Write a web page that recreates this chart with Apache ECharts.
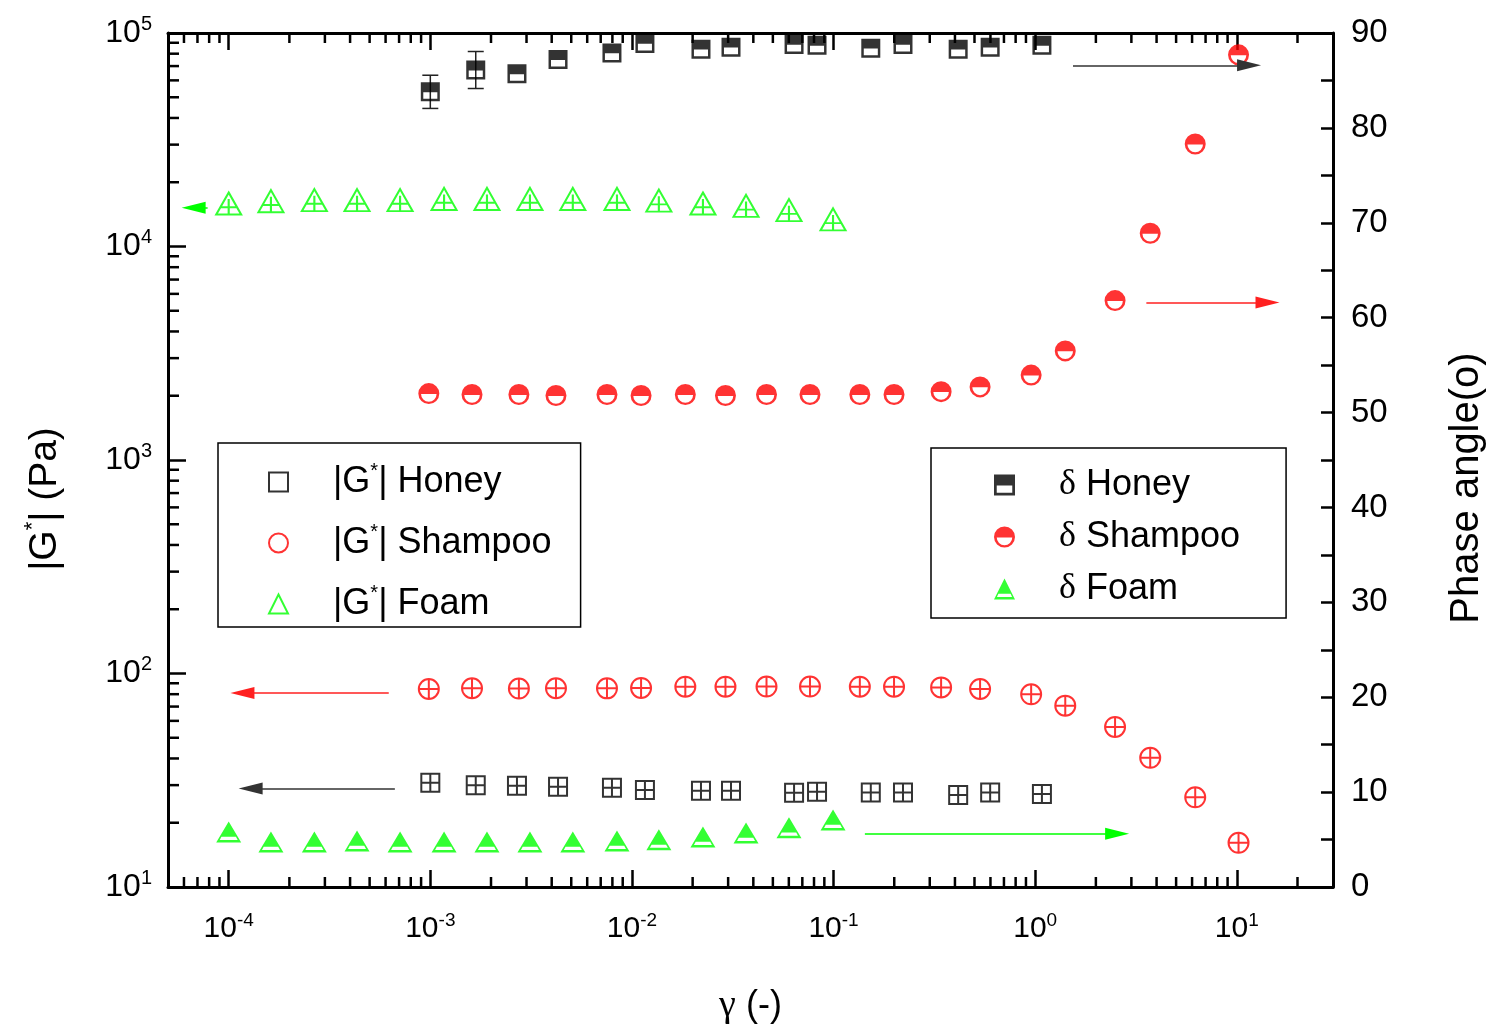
<!DOCTYPE html>
<html>
<head>
<meta charset="utf-8">
<title>|G*| and phase angle vs strain</title>
<script src="https://cdn.jsdelivr.net/npm/echarts@6/dist/echarts.min.js"></script>
<style>
  html, body { margin: 0; padding: 0; background: #fff; }
  #chart { width: 1491px; height: 1030px; }
</style>
</head>
<body>
<div id="chart"></div>
<script>
'use strict';

var xHoney = [1.0e-3, 1.68e-3, 2.69e-3, 4.3e-3, 7.96e-3, 0.0116, 0.022, 0.031, 0.0637, 0.0828, 0.153, 0.221, 0.415, 0.598, 1.08];
var gHoney = [30.8, 30.0, 29.8, 29.5, 29.2, 28.5, 28.2, 28.2, 27.6, 27.9, 27.7, 27.7, 27.0, 27.7, 27.3];
var dHoney = [83.8, 86.1, 85.7, 87.2, 87.9, 88.9, 88.3, 88.5, 88.8, 88.7, 88.4, 88.8, 88.3, 88.5, 88.7];
var dHoneyErr = [1.75, 1.95, 0, 0, 0, 0, 0, 0, 0, 0, 0, 0, 0, 0, 0];

var xShampoo = [9.83e-4, 1.61e-3, 2.75e-3, 4.2e-3, 7.52e-3, 0.0111, 0.0184, 0.0291, 0.0465, 0.0764,
                0.135, 0.1995, 0.3415, 0.533, 0.955, 1.41, 2.49, 3.72, 6.22, 10.2];
var gShampoo = [84.6, 85.3, 85.0, 85.3, 85.2, 85.6, 86.7, 86.7, 86.9, 86.9,
                86.7, 86.7, 86.1, 84.6, 79.9, 70.7, 56.2, 40.3, 26.3, 16.1];
var dShampoo = [52.0, 51.9, 51.9, 51.8, 51.9, 51.8, 51.9, 51.8, 51.9, 51.9,
                51.9, 51.9, 52.2, 52.7, 53.95, 56.5, 61.8, 68.9, 78.3, 87.7];

var xFoam = [1.0e-4, 1.62e-4, 2.66e-4, 4.33e-4, 7.08e-4, 1.17e-3, 1.91e-3, 3.12e-3, 5.09e-3, 8.43e-3,
             0.0136, 0.0225, 0.0368, 0.0601, 0.0994];
var gFoam = [15900, 16300, 16500, 16500, 16500, 16700, 16700, 16700, 16700, 16700,
             16400, 15900, 15500, 14800, 13400];
var dFoam = [5.8, 4.74, 4.74, 4.85, 4.74, 4.74, 4.74, 4.74, 4.74, 4.85,
             4.97, 5.27, 5.69, 6.24, 7.06];

// arrows telling which axis a set belongs to: [x from, x to, y]
var arrowHoneyG = [6.67e-4, 1.285e-4, 28.9];
var arrowShampooG = [6.22e-4, 1.17e-4, 81];
var arrowFoamG = [7.86e-5, 6.7e-5, 15200];
var arrowHoneyD = [1.54, 11.5, 86.6];
var arrowShampooD = [3.56, 14.2, 61.6];
var arrowFoamD = [0.143, 2.55, 5.6];

// axis ranges and minor ticks (2..9 x 10^n)
var xMin = 5e-5, xMax = 30;
var yMin = 10, yMax = 1e5;
var minorMult = [2, 3, 4, 5, 6, 7, 8, 9];
var xMinorTicks = [], yMinorTicks = [];
for (var n = -5; n <= 1; n++) {
    minorMult.forEach(function (m) {
        var v = m * Math.pow(10, n);
        if (v > xMin && v < xMax) xMinorTicks.push(v);
    });
}
for (var k = 1; k <= 4; k++) {
    minorMult.forEach(function (m) { yMinorTicks.push(m * Math.pow(10, k)); });
}

var FONT = 'Liberation Sans';
var SERIF = 'Liberation Serif';
var GREEN = '#00ff00', RED = '#ff0000';

// marker shapes (half ones: filled top, hollow bottom)
var SYM = {
    sqOpen: 'path://M0,0H10V10H0Z M5,0V10 M0,5H10',
    ciOpen: 'path://M0,5A5,5 0 1,1 10,5A5,5 0 1,1 0,5Z M5,0V10 M0,5H10',
    trOpen: 'path://M5,0L10,10H0Z M5,3V10 M1.7,6.7H8.3',
    sqHalf: 'path://M0,0H10V10H0Z M1.3,5.2V8.7H8.7V5.2Z',
    ciHalf: 'path://M0,5A5,5 0 1,1 10,5A5,5 0 1,1 0,5Z M8.7,5.2H1.3A3.7,3.7 0 0,0 8.7,5.2Z',
    trHalf: 'path://M5,0L10,10H0Z M1.4,8.8H8.6L7.9,7.3H2.1Z'
};

function pairs(xs, ys) {
    return xs.map(function (x, i) { return [x, ys[i]]; });
}

function powLabel(v) {
    var e = Math.log(v) / Math.LN10;
    if (Math.abs(e - Math.round(e)) > 1e-6) return '';
    return '{n|10}{s|' + Math.round(e) + '}';
}

function arrowLine(a, color) {
    return {
        silent: true,
        symbol: ['none', 'triangle'],
        symbolSize: [12, 24],
        label: { show: false },
        emphasis: { disabled: true },
        lineStyle: { color: color, width: 1.5, type: 'solid' },
        data: [[{ coord: [a[0], a[2]] }, { coord: [a[1], a[2]] }]]
    };
}

var tickStyle = { color: '#000', width: 2.5 };

var chart = echarts.init(document.getElementById('chart'));
var option = {
    animation: false,
    backgroundColor: '#fff',
    grid: { left: 168, right: 158, top: 33, bottom: 143, outerBoundsMode: 'none' },
    legend: [{
        left: 218, top: 443,
        orient: 'vertical',
        selectedMode: false,
        borderColor: '#000', borderWidth: 1.5,
        padding: [18, 29, 3, 50],
        itemWidth: 19, itemHeight: 19, itemGap: 20,
        data: [
            { name: '|G*| Honey', icon: 'rect' },
            { name: '|G*| Shampoo', icon: 'circle' },
            { name: '|G*| Foam', icon: 'triangle' }
        ],
        formatter: function (name) { return name.replace('*', '{s|*}'); },
        textStyle: {
            fontFamily: FONT, fontSize: 36, color: '#000', lineHeight: 40,
            padding: [0, 0, 0, 40],
            rich: { s: { fontSize: 20, fontFamily: FONT, padding: [0, 0, 22, 0] } }
        }
    }, {
        left: 931, top: 448,
        orient: 'vertical',
        selectedMode: false,
        borderColor: '#000', borderWidth: 1.5,
        padding: [19, 46, 11, 63],
        itemWidth: 25, itemHeight: 21, itemGap: 16,
        data: [
            { name: 'δ Honey', icon: SYM.sqHalf },
            { name: 'δ Shampoo', icon: SYM.ciHalf },
            { name: 'δ Foam', icon: SYM.trHalf }
        ],
        formatter: function (name) { return name.replace('δ', '{d|δ}'); },
        textStyle: {
            fontFamily: FONT, fontSize: 36, color: '#000', lineHeight: 36,
            padding: [0, 0, 0, 37],
            rich: { d: { fontSize: 36, fontFamily: SERIF } }
        }
    }],
    xAxis: [{
        type: 'log', min: xMin, max: xMax, position: 'bottom',
        axisLine: { lineStyle: { color: '#000', width: 3 } },
        axisTick: { inside: true, length: 17, lineStyle: tickStyle },
        splitLine: { show: false },
        axisLabel: {
            margin: 24, formatter: powLabel, color: '#000',
            rich: {
                n: { fontSize: 30, fontFamily: FONT, color: '#000' },
                s: { fontSize: 19, fontFamily: FONT, color: '#000', padding: [0, 0, 16, 0] }
            }
        },
        name: '{g|γ} (-)', nameLocation: 'middle', nameGap: 100,
        nameTextStyle: {
            fontFamily: FONT, fontSize: 36, color: '#000',
            rich: { g: { fontFamily: SERIF, fontSize: 38, color: '#000' } }
        }
    }, {
        type: 'log', min: xMin, max: xMax, position: 'top',
        axisLine: { lineStyle: { color: '#000', width: 3 } },
        axisTick: { inside: true, length: 17, lineStyle: tickStyle },
        axisLabel: { show: false },
        splitLine: { show: false }
    }],
    yAxis: [{
        type: 'log', min: yMin, max: yMax, position: 'left',
        axisLine: { show: true, lineStyle: { color: '#000', width: 3 } },
        axisTick: { show: true, inside: true, length: 18, lineStyle: tickStyle },
        splitLine: { show: false },
        axisLabel: {
            margin: 16, formatter: powLabel, color: '#000',
            rich: {
                n: { fontSize: 32, fontFamily: FONT, color: '#000' },
                s: { fontSize: 20, fontFamily: FONT, color: '#000', padding: [0, 0, 18, 0] }
            }
        },
        name: '|G{s|*}| (Pa)', nameLocation: 'middle', nameGap: 100, nameRotate: 90,
        nameTextStyle: {
            fontFamily: FONT, fontSize: 39, color: '#000', padding: [0, 78, 0, 0],
            rich: { s: { fontSize: 22, fontFamily: FONT, color: '#000', padding: [0, 0, 24, 0] } }
        }
    }, {
        type: 'value', min: 0, max: 90, interval: 10, position: 'right',
        axisLine: { show: true, lineStyle: { color: '#000', width: 3 } },
        axisTick: { show: true, inside: true, length: 12, lineStyle: tickStyle },
        minorTick: { show: true, splitNumber: 2, length: 12, lineStyle: tickStyle },
        splitLine: { show: false },
        axisLabel: { margin: 18, fontSize: 33, fontFamily: FONT, color: '#000' },
        name: 'Phase angle(o)', nameLocation: 'middle', nameGap: 114, nameRotate: 90,
        nameTextStyle: { fontFamily: FONT, fontSize: 40, color: '#000', padding: [0, 56, 0, 0] }
    }],
    series: [{
        // minor ticks of the log x axis, bottom and top
        type: 'custom', silent: true, clip: false, z: 5,
        xAxisIndex: 0, yAxisIndex: 0,
        data: xMinorTicks.map(function (v) { return [v, 100]; }),
        renderItem: function (params, api) {
            var cs = params.coordSys;
            var x = api.coord([api.value(0), 100])[0];
            var st = { stroke: '#000', lineWidth: 2.5 };
            return {
                type: 'group', children: [
                    { type: 'line', shape: { x1: x, y1: cs.y + cs.height, x2: x, y2: cs.y + cs.height - 10 }, style: st },
                    { type: 'line', shape: { x1: x, y1: cs.y, x2: x, y2: cs.y + 10 }, style: st }
                ]
            };
        }
    }, {
        // minor ticks of the log |G*| axis
        type: 'custom', silent: true, clip: false, z: 5,
        xAxisIndex: 0, yAxisIndex: 0,
        data: yMinorTicks.map(function (v) { return [1e-3, v]; }),
        renderItem: function (params, api) {
            var cs = params.coordSys;
            var y = api.coord([1e-3, api.value(1)])[1];
            return {
                type: 'line',
                shape: { x1: cs.x, y1: y, x2: cs.x + 11, y2: y },
                style: { stroke: '#000', lineWidth: 2.5 }
            };
        }
    }, {
        // error bars on the honey phase angle
        type: 'custom', silent: true, z: 1,
        xAxisIndex: 0, yAxisIndex: 1,
        data: xHoney.map(function (x, i) { return [x, dHoney[i], dHoneyErr[i]]; })
            .filter(function (d) { return d[2] > 0; }),
        renderItem: function (params, api) {
            var lo = api.coord([api.value(0), api.value(1) - api.value(2)]);
            var hi = api.coord([api.value(0), api.value(1) + api.value(2)]);
            var st = { stroke: '#222', lineWidth: 1.5 };
            return {
                type: 'group', children: [
                    { type: 'line', shape: { x1: lo[0], y1: lo[1], x2: hi[0], y2: hi[1] }, style: st },
                    { type: 'line', shape: { x1: lo[0] - 8, y1: lo[1], x2: lo[0] + 8, y2: lo[1] }, style: st },
                    { type: 'line', shape: { x1: hi[0] - 8, y1: hi[1], x2: hi[0] + 8, y2: hi[1] }, style: st }
                ]
            };
        }
    }, {
        name: '|G*| Honey', type: 'scatter', xAxisIndex: 0, yAxisIndex: 0, z: 3,
        data: pairs(xHoney, gHoney),
        symbol: SYM.sqOpen, symbolSize: 18,
        itemStyle: { color: '#fff', borderColor: '#000', borderWidth: 2 },
        emphasis: { disabled: true },
        markLine: arrowLine(arrowHoneyG, '#333')
    }, {
        name: '|G*| Shampoo', type: 'scatter', xAxisIndex: 0, yAxisIndex: 0, z: 3,
        data: pairs(xShampoo, gShampoo),
        symbol: SYM.ciOpen, symbolSize: 20,
        itemStyle: { color: '#fff', borderColor: RED, borderWidth: 2 },
        emphasis: { disabled: true },
        markLine: arrowLine(arrowShampooG, '#ff2020')
    }, {
        name: '|G*| Foam', type: 'scatter', xAxisIndex: 0, yAxisIndex: 0, z: 3,
        data: pairs(xFoam, gFoam),
        symbol: SYM.trOpen, symbolSize: [25, 22],
        itemStyle: { color: '#fff', borderColor: GREEN, borderWidth: 2 },
        emphasis: { disabled: true },
        markLine: arrowLine(arrowFoamG, GREEN)
    }, {
        name: 'δ Honey', type: 'scatter', xAxisIndex: 0, yAxisIndex: 1, z: 3,
        data: pairs(xHoney, dHoney),
        symbol: SYM.sqHalf, symbolSize: 19,
        itemStyle: { color: '#000', borderWidth: 0 },
        emphasis: { disabled: true },
        markLine: arrowLine(arrowHoneyD, '#333')
    }, {
        name: 'δ Shampoo', type: 'scatter', xAxisIndex: 0, yAxisIndex: 1, z: 3,
        data: pairs(xShampoo, dShampoo),
        symbol: SYM.ciHalf, symbolSize: 21,
        itemStyle: { color: RED, borderWidth: 0 },
        emphasis: { disabled: true },
        markLine: arrowLine(arrowShampooD, '#ff2020')
    }, {
        name: 'δ Foam', type: 'scatter', xAxisIndex: 0, yAxisIndex: 1, z: 3,
        data: pairs(xFoam, dFoam),
        symbol: SYM.trHalf, symbolSize: [25, 21],
        itemStyle: { color: GREEN, borderWidth: 0 },
        emphasis: { disabled: true },
        markLine: arrowLine(arrowFoamD, GREEN)
    }]
};
chart.setOption(option);
window.onresize = function () { chart.resize(); };
</script>
</body>
</html>
